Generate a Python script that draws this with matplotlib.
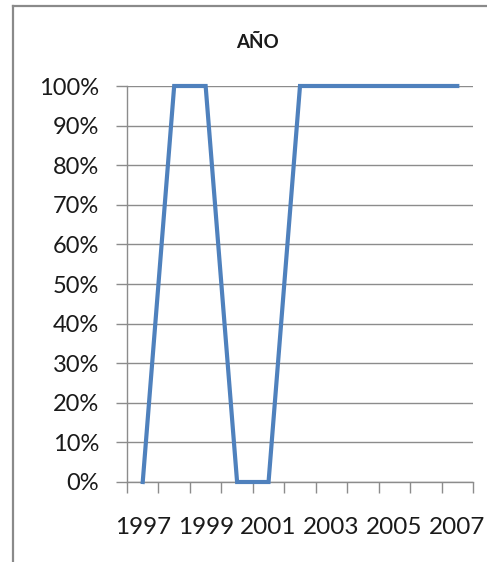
import matplotlib
matplotlib.use("Agg")
import matplotlib.pyplot as plt
from matplotlib.lines import Line2D
import numpy as np

plt.rcParams['font.family'] = ['Lato', 'DejaVu Sans']

years = [1997, 1998, 1999, 2000, 2001, 2002, 2003, 2004, 2005, 2006, 2007]
values = [0, 1, 1, 0, 0, 1, 1, 1, 1, 1, 1]
title = "AÑO"
ytick_values = [0.0, 0.1, 0.2, 0.3, 0.4, 0.5, 0.6, 0.7, 0.8, 0.9, 1.0]

W, H = 487, 562
fig = plt.figure(figsize=(W / 100, H / 100), dpi=100)
fig.patch.set_facecolor('white')

# chart area border (partially visible)
grey = '#8a8a8a'
fig.add_artist(Line2D([13 / W, 13 / W], [0, 1 - 6 / H], transform=fig.transFigure, color=grey, lw=1.6))
fig.add_artist(Line2D([13 / W, 1], [1 - 6 / H, 1 - 6 / H], transform=fig.transFigure, color=grey, lw=1.6))

ax = fig.add_axes([127 / W, 1 - 482 / H, 346 / W, 396 / H])
x = np.arange(len(years))
ax.plot(x, values, color='#4F81BD', lw=3.0, solid_joinstyle='miter', clip_on=False, zorder=3)

ax.set_xlim(-0.5, len(years) - 0.5)
ax.set_ylim(0, 1)

# y axis
ax.set_yticks(ytick_values)
ax.set_yticklabels([f"{int(round(v * 100))}%" for v in ytick_values], fontsize=17, color='#1a1a1a')
ax.yaxis.grid(True, color='#8c8c8c', lw=1.0)
ax.set_axisbelow(True)
ax.tick_params(axis='y', which='major', length=8, width=1, color='#8c8c8c', pad=12)

# x axis: tick marks between categories, labels every other category
ax.set_xticks(np.arange(-0.5, len(years), 1.0))
ax.set_xticklabels([])
ax.tick_params(axis='x', which='major', length=8, width=1, color='#8c8c8c')
ax.set_xticks(x[::2], minor=True)
ax.set_xticklabels([str(y) for y in years[::2]], minor=True, fontsize=17.5, color='#1a1a1a')
ax.tick_params(axis='x', which='minor', length=0, pad=25)

for s in ['top', 'right']:
    ax.spines[s].set_visible(False)
for s in ['left', 'bottom']:
    ax.spines[s].set_color('#8c8c8c')
    ax.spines[s].set_linewidth(1.0)

fig.text(257 / W, 1 - 43 / H, title, ha='center', va='center', fontsize=13.5, fontweight='bold', color='#1a1a1a')

fig.savefig('out.png', dpi=100, facecolor='white')
